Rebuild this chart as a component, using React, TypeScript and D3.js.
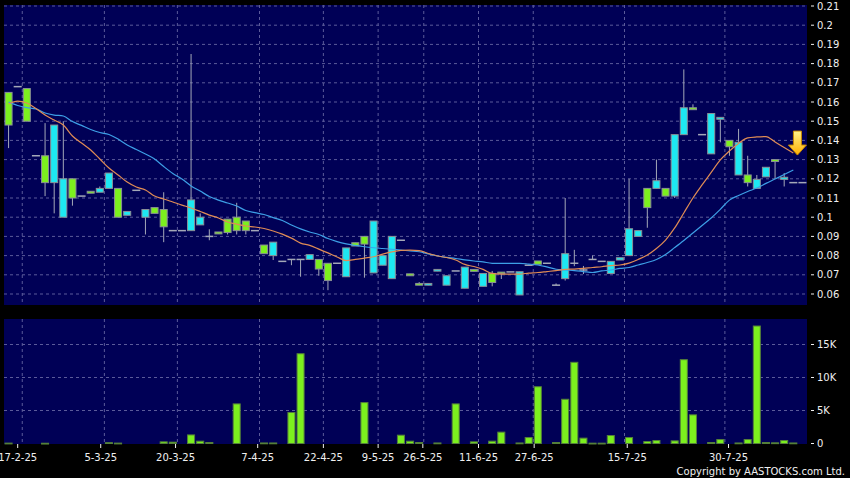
import * as d3 from 'd3';

const W = 850;
const H = 478;
const PLOT = { left: 4, right: 807 };
const PRICE_FRAME = { top: 5, bottom: 305 };
const VOL_FRAME = { top: 319, bottom: 444 };

// daily OHLC, one entry per traded session
const open = [
  0.165, 0.168, 0.167, 0.132, 0.132, 0.118, 0.1, 0.12, 0.111, 0.1135, 0.113, 0.115, 0.115, 0.101, 0.114, 0.1, 0.105,
  0.104, 0.093, 0.093, 0.093, 0.096, 0.09, 0.0923, 0.099, 0.1, 0.098, 0.093, 0.0855, 0.08, 0.077, 0.078, 0.078, 0.078,
  0.078, 0.076, 0.076, 0.069, 0.0867, 0.09, 0.071, 0.075, 0.068, 0.088, 0.0705, 0.0655, 0.0646, 0.0719, 0.0646, 0.072,
  0.063, 0.0728, 0.064, 0.0707, 0.0714, 0.0715, 0.0595, 0.075, 0.0772, 0.076, 0.0646, 0.068, 0.076, 0.0725, 0.078,
  0.077, 0.0707, 0.0777, 0.08, 0.09, 0.115, 0.115, 0.115, 0.111, 0.143, 0.157, 0.143, 0.133, 0.151, 0.14, 0.122, 0.122,
  0.115, 0.121, 0.13, 0.1197, 0.118, 0.118,
];
const high = [
  0.165, 0.168, 0.167, 0.132, 0.149, 0.148, 0.15, 0.12, 0.111, 0.1135, 0.116, 0.123, 0.115, 0.103, 0.114, 0.104, 0.105,
  0.113, 0.093, 0.093, 0.185, 0.102, 0.0937, 0.0923, 0.099, 0.1075, 0.098, 0.093, 0.0855, 0.087, 0.077, 0.078, 0.078,
  0.0805, 0.078, 0.076, 0.076, 0.084, 0.0867, 0.09, 0.098, 0.08, 0.09, 0.088, 0.0705, 0.0662, 0.0655, 0.0728, 0.0695,
  0.072, 0.074, 0.0728, 0.0707, 0.072, 0.0714, 0.0715, 0.0716, 0.075, 0.0772, 0.076, 0.0655, 0.11, 0.083, 0.0746, 0.08,
  0.077, 0.077, 0.0789, 0.12, 0.093, 0.115, 0.13, 0.115, 0.143, 0.177, 0.1588, 0.143, 0.154, 0.152, 0.14, 0.146, 0.132,
  0.122, 0.126, 0.13, 0.123, 0.118, 0.118,
];
const low = [
  0.136, 0.168, 0.15, 0.132, 0.111, 0.102, 0.1, 0.106, 0.111, 0.1125, 0.113, 0.115, 0.1, 0.101, 0.114, 0.091, 0.102,
  0.087, 0.093, 0.093, 0.093, 0.096, 0.088, 0.0913, 0.091, 0.091, 0.091, 0.093, 0.081, 0.0777, 0.077, 0.075, 0.069,
  0.078, 0.0695, 0.062, 0.076, 0.069, 0.085, 0.0685, 0.071, 0.075, 0.068, 0.088, 0.0695, 0.0646, 0.0646, 0.0719,
  0.0646, 0.072, 0.063, 0.0718, 0.064, 0.064, 0.0678, 0.0715, 0.0595, 0.075, 0.0755, 0.076, 0.0646, 0.067, 0.0745,
  0.0704, 0.078, 0.077, 0.0707, 0.0777, 0.08, 0.09, 0.0945, 0.115, 0.111, 0.11, 0.143, 0.156, 0.143, 0.133, 0.139,
  0.132, 0.122, 0.116, 0.115, 0.121, 0.12, 0.116, 0.118, 0.118,
];
const close = [
  0.148, 0.168, 0.15, 0.132, 0.118, 0.148, 0.12, 0.11, 0.111, 0.1125, 0.115, 0.123, 0.1, 0.103, 0.114, 0.104, 0.102,
  0.095, 0.093, 0.093, 0.109, 0.1, 0.09, 0.0913, 0.092, 0.093, 0.093, 0.093, 0.081, 0.087, 0.077, 0.078, 0.078, 0.0805,
  0.073, 0.067, 0.076, 0.084, 0.085, 0.086, 0.098, 0.08, 0.09, 0.088, 0.0695, 0.0646, 0.0655, 0.0728, 0.0695, 0.072,
  0.074, 0.0718, 0.0707, 0.066, 0.0707, 0.0715, 0.0716, 0.075, 0.0755, 0.076, 0.0646, 0.081, 0.076, 0.0725, 0.078,
  0.077, 0.077, 0.0789, 0.094, 0.093, 0.105, 0.119, 0.111, 0.143, 0.157, 0.156, 0.143, 0.154, 0.152, 0.1367, 0.139,
  0.118, 0.1197, 0.126, 0.129, 0.1208, 0.118, 0.118,
];
const volume = [
  60, 0, 0, 0, 40, 0, 0, 0, 0, 0, 0, 120, 60, 0, 0, 0, 0, 250, 200, 0, 1300, 350, 150, 0, 0, 6000, 0, 0, 80, 80, 0, 4700,
  13600, 0, 0, 0, 0, 0, 0, 6200, 0, 0, 0, 1260, 350, 150, 0, 80, 0, 6000, 0, 250, 0, 350, 1720, 0, 80, 900, 8600, 0, 150,
  6700, 12300, 810, 50, 50, 1210, 0, 900, 0, 300, 450, 0, 400, 12700, 4340, 0, 150, 600, 0, 80, 600, 17800, 150, 100,
  450, 80, 0,
];
// moving averages as drawn on the chart
const ma10 = [
  0.159, 0.1605, 0.1595, 0.1566, 0.1532, 0.1506, 0.148, 0.1423, 0.1386, 0.135, 0.1303, 0.1256, 0.122, 0.1183, 0.1157,
  0.1142, 0.111, 0.1095, 0.1079, 0.1063, 0.1048, 0.103, 0.1011, 0.0996, 0.0975, 0.0964, 0.0954, 0.0949, 0.0941, 0.0928,
  0.0912, 0.0891, 0.0865, 0.0853, 0.0834, 0.0814, 0.0793, 0.0774, 0.078, 0.0787, 0.0794, 0.0808, 0.0819, 0.0827, 0.0829,
  0.0826, 0.0811, 0.0798, 0.079, 0.0777, 0.0754, 0.0743, 0.0728, 0.0707, 0.0704, 0.0704, 0.0704, 0.0709, 0.0712, 0.0717,
  0.0722, 0.0728, 0.073, 0.0733, 0.0738, 0.0742, 0.0748, 0.0751, 0.0761, 0.078, 0.0803, 0.0837, 0.0881, 0.0944, 0.1022,
  0.11, 0.1168, 0.1233, 0.1298, 0.1345, 0.1384, 0.1413, 0.1418, 0.142, 0.1392, 0.1363, 0.1334,
];
const ma20 = [
  0.16, 0.1582, 0.1571, 0.1564, 0.1543, 0.1532, 0.1527, 0.1498, 0.1478, 0.1457, 0.1441, 0.1431, 0.1407, 0.1376, 0.1353,
  0.1329, 0.1303, 0.1264, 0.1228, 0.1199, 0.1163, 0.1136, 0.1108, 0.1089, 0.1074, 0.1058, 0.1035, 0.1024, 0.1014,
  0.0998, 0.0983, 0.0959, 0.0939, 0.0923, 0.091, 0.0889, 0.0873, 0.0861, 0.0853, 0.0846, 0.0841, 0.0837, 0.0833, 0.0829,
  0.0824, 0.082, 0.0809, 0.0798, 0.0791, 0.0785, 0.0778, 0.0772, 0.0767, 0.076, 0.076, 0.076, 0.076, 0.0756, 0.0751,
  0.0741, 0.0729, 0.0725, 0.0722, 0.0717, 0.0712, 0.072, 0.0725, 0.0733, 0.0738, 0.0751, 0.0764, 0.078, 0.0806, 0.0842,
  0.0879, 0.0918, 0.0957, 0.0996, 0.1041, 0.1089, 0.1113, 0.1134, 0.1152, 0.1176, 0.1199, 0.1222, 0.1246,
];

const dateLabels = ['17-2-25', '5-3-25', '20-3-25', '7-4-25', '22-4-25', '9-5-25', '26-5-25', '11-6-25', '27-6-25', '15-7-25', '30-7-25'];
const dateLabelAt = [1.0, 10.1, 18.3, 27.3, 34.5, 40.5, 45.4, 51.5, 57.6, 67.8, 78.9];
const gridAfter = [1, 10, 18, 27, 34, 40, 45, 51, 57, 67, 78];
const priceTicks = d3.range(6, 22).map(d => d / 100);
const volTicks = [0, 5000, 10000, 15000];
const volTickLabels = ['0', '5K', '10K', '15K'];

const color = {
  page: '#000000',
  plot: '#000056',
  grid: '#5b5b9a',
  up: '#1de8f2',
  down: '#7cf01e',
  edge: '#8a8f96',
  wick: '#a4a8b8',
  ma10: '#e08c55',
  ma20: '#3d9fe6',
  text: '#f0f0f0',
};
const FONT = '"DejaVu Sans", Verdana, sans-serif';

export default function App() {
  const n = close.length;
  const idx = d3.range(n);

  const x = d3.scaleBand<number>().domain(idx).range([PLOT.left, PLOT.right]).paddingInner(0.12).paddingOuter(0.06);
  const bw = x.bandwidth();
  const step = x.step();
  const cx = (i: number) => (x(i) as number) + bw / 2;
  const xi = d3.scaleLinear().domain([0, n - 1]).range([cx(0), cx(n - 1)]);

  const y = d3.scaleLinear().domain([0.06, 0.21]).range([294, 6]);
  const yv = d3.scaleLinear().domain([0, 15000]).range([443.5, 344.5]);

  const maLine = d3
    .line<number>()
    .x((_, i) => cx(i))
    .y(d => y(d))
    .curve(d3.curveMonotoneX);

  // arrow sits on the end of the short average
  const last = ma10.length - 1;
  const ax = xi(last + 0.45);
  const ay = y(ma10[last]) + 2;

  return (
    <svg width={W} height={H} style={{ position: 'absolute', left: 0, top: 0 }} fontFamily={FONT}>
      <defs>
        <linearGradient id="arrowFill" x1="0" x2="0" y1="0" y2="1">
          <stop offset="0" stopColor="#fff48a" />
          <stop offset="1" stopColor="#ffb000" />
        </linearGradient>
        <clipPath id="priceClip">
          <rect x={PLOT.left} y={PRICE_FRAME.top} width={PLOT.right - PLOT.left} height={PRICE_FRAME.bottom - PRICE_FRAME.top} />
        </clipPath>
      </defs>
      <rect width={W} height={H} fill={color.page} />

      {/* price panel */}
      <rect
        x={PLOT.left}
        y={PRICE_FRAME.top}
        width={PLOT.right - PLOT.left}
        height={PRICE_FRAME.bottom - PRICE_FRAME.top}
        fill={color.plot}
      />
      {priceTicks.map(t => (
        <line key={t} x1={PLOT.left} x2={PLOT.right} y1={y(t)} y2={y(t)} stroke={color.grid} strokeDasharray="3,3" />
      ))}
      {gridAfter.map(i => (
        <line
          key={i}
          x1={cx(i) + step / 2}
          x2={cx(i) + step / 2}
          y1={PRICE_FRAME.top}
          y2={PRICE_FRAME.bottom}
          stroke={color.grid}
          strokeDasharray="3,3"
        />
      ))}

      <g clipPath="url(#priceClip)">
        {idx.map(i => {
          const o = open[i];
          const c = close[i];
          const mid = cx(i);
          const wick =
            high[i] > low[i] ? (
              <line x1={mid} x2={mid} y1={y(high[i])} y2={y(low[i])} stroke={color.wick} strokeWidth={1} />
            ) : null;
          if (o === c) {
            return (
              <g key={i}>
                {wick}
                <line x1={x(i)} x2={(x(i) as number) + bw} y1={y(o)} y2={y(o)} stroke={color.wick} strokeWidth={1.5} />
              </g>
            );
          }
          const top = y(Math.max(o, c));
          const h = Math.max(1, Math.abs(y(o) - y(c)));
          return (
            <g key={i}>
              {wick}
              <rect
                x={(x(i) as number) + 0.5}
                y={top}
                width={bw - 1}
                height={h}
                fill={c > o ? color.up : color.down}
                stroke={color.edge}
                strokeWidth={1}
              />
            </g>
          );
        })}
        <path d={maLine(ma20) || ''} fill="none" stroke={color.ma20} strokeWidth={1.2} />
        <path d={maLine(ma10) || ''} fill="none" stroke={color.ma10} strokeWidth={1.2} />
      </g>

      <path
        d={`M${ax},${ay} l-9,-10 h5 v-14 h8 v14 h5 z`}
        fill="url(#arrowFill)"
        stroke="#c98a00"
        strokeWidth={1}
        strokeLinejoin="round"
      />

      {priceTicks.map(t => (
        <g key={t} transform={`translate(0,${y(t)})`}>
          <line x1={811} x2={814} stroke={color.text} />
          <text x={817} dy="0.35em" fontSize={10} fill={color.text}>
            {String(+t.toFixed(2))}
          </text>
        </g>
      ))}

      {/* volume panel */}
      <rect
        x={PLOT.left}
        y={VOL_FRAME.top}
        width={PLOT.right - PLOT.left}
        height={VOL_FRAME.bottom - VOL_FRAME.top}
        fill={color.plot}
      />
      {volTicks.slice(1).map(t => (
        <line key={t} x1={PLOT.left} x2={PLOT.right} y1={yv(t)} y2={yv(t)} stroke={color.grid} strokeDasharray="3,3" />
      ))}
      {gridAfter.map(i => (
        <line
          key={i}
          x1={cx(i) + step / 2}
          x2={cx(i) + step / 2}
          y1={VOL_FRAME.top}
          y2={VOL_FRAME.bottom}
          stroke={color.grid}
          strokeDasharray="3,3"
        />
      ))}
      {idx.map(i =>
        volume[i] > 0 ? (
          <rect
            key={i}
            x={(x(i) as number) + 0.5}
            y={yv(volume[i])}
            width={bw - 1}
            height={Math.max(0.8, yv(0) - yv(volume[i]))}
            fill={color.down}
            stroke="#55803a"
            strokeWidth={1}
          />
        ) : null,
      )}
      {volTicks.map((t, k) => (
        <g key={t} transform={`translate(0,${yv(t)})`}>
          <line x1={811} x2={814} stroke={color.text} />
          <text x={817} dy="0.35em" fontSize={10} fill={color.text}>
            {volTickLabels[k]}
          </text>
        </g>
      ))}

      {/* date axis */}
      {dateLabels.map((lab, k) => (
        <g key={lab} transform={`translate(${xi(dateLabelAt[k])},0)`}>
          <line y1={VOL_FRAME.bottom} y2={VOL_FRAME.bottom + 4} stroke={color.text} />
          <text y={461} textAnchor="middle" fontSize={10} fill={color.text}>
            {lab}
          </text>
        </g>
      ))}
      <text x={845} y={475} textAnchor="end" fontSize={10} fill={color.text}>
        Copyright by AASTOCKS.com Ltd.
      </text>
    </svg>
  );
}
